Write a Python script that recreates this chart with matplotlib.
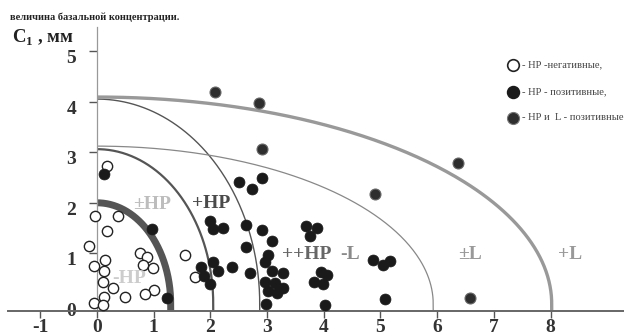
import numpy as np
import matplotlib
matplotlib.use('Agg')
import matplotlib.pyplot as plt
import matplotlib.transforms as mtransforms

plt.rcParams['font.family'] = ['Liberation Serif', 'DejaVu Serif']
plt.rcParams['font.weight'] = 'bold'
plt.rcParams['axes.unicode_minus'] = False
plt.rcParams['mathtext.fontset'] = 'custom'
plt.rcParams['mathtext.bf'] = 'Liberation Serif:bold'
plt.rcParams['mathtext.rm'] = 'Liberation Serif:bold'

# HP-negative (open circles)
neg_x = [0.18, -0.04, 0.37, 0.18, -0.14, 0.14, -0.05, 0.12, 0.11, 0.28, 0.49,
         0.12, -0.05, 0.10, 0.76, 0.88, 0.81, 0.99, 1.00, 0.85, 1.55, 1.73]
neg_y = [2.73, 1.74, 1.74, 1.44, 1.15, 0.87, 0.75, 0.65, 0.43, 0.32, 0.14,
         0.14, 0.02, -0.02, 1.00, 0.93, 0.77, 0.71, 0.28, 0.20, 0.97, 0.53]

# HP-positive (black dots)
pos_x = [0.12, 0.97, 1.23, 2.50, 2.73, 2.91, 1.99, 2.05, 2.22, 2.63, 2.91, 3.09,
         2.63, 3.02, 2.96, 1.83, 2.05, 2.13, 2.38, 1.89, 1.99, 2.70, 3.09, 3.28,
         2.96, 3.14, 3.02, 3.17, 3.28, 2.98, 3.69, 3.88, 3.76, 3.95, 4.06, 3.83,
         3.99, 4.02, 4.87, 5.04, 5.17, 5.08]
pos_y = [2.57, 1.48, 0.12, 2.41, 2.27, 2.49, 1.64, 1.48, 1.50, 1.56, 1.46, 1.25,
         1.13, 0.97, 0.83, 0.73, 0.83, 0.65, 0.73, 0.55, 0.40, 0.61, 0.65, 0.61,
         0.43, 0.41, 0.26, 0.22, 0.32, 0.00, 1.54, 1.50, 1.34, 0.63, 0.57, 0.43,
         0.40, -0.02, 0.87, 0.77, 0.85, 0.10]

# HP and L positive
lpos_x = [2.08, 2.86, 2.91, 4.90, 6.37, 6.58]
lpos_y = [4.19, 3.97, 3.06, 2.17, 2.79, 0.12]

# boundary quarter-ellipses: semi-axis along x and along y
arc_a = [1.30, 2.05, 2.87, 5.93, 8.02]
arc_b = [2.00, 3.06, 4.05, 3.12, 4.09]
arc_color = ['#555555', '#555555', '#555555', '#888888', '#999999']
arc_lw = [5.0, 1.6, 1.0, 0.9, 2.4]

x_ticks = [-1, 0, 1, 2, 3, 4, 5, 6, 7, 8]
y_ticks = [0, 1, 2, 3, 4, 5]
base_y = -0.13  # height of the drawn x axis line

fig = plt.figure(figsize=(6.24, 3.35), dpi=100)
ax = fig.add_axes([0, 0, 1, 1])
ax.set_xlim(-1.711, 9.295)
ax.set_ylim(-0.613, 6.008)

for sp in ['top', 'right']:
    ax.spines[sp].set_visible(False)
ax.spines['left'].set_position(('data', 0))
ax.spines['left'].set_bounds(base_y, 5.47)
ax.spines['left'].set_color('#999999')
ax.spines['left'].set_linewidth(0.9)
ax.spines['bottom'].set_position(('data', base_y))
ax.spines['bottom'].set_bounds(-1.57, 9.3)
ax.spines['bottom'].set_color('#666666')
ax.spines['bottom'].set_linewidth(1.4)

ax.set_xticks(x_ticks)
ax.set_xticklabels([str(t) for t in x_ticks])
ax.set_yticks(y_ticks)
ax.set_yticklabels([str(t) for t in y_ticks])
ax.tick_params(axis='x', direction='out', length=5, width=1, color='#555555',
               labelsize=14, labelcolor='#333333', pad=1)
ax.tick_params(axis='y', direction='out', length=6, width=1, color='#555555',
               labelsize=14, labelcolor='#333333', pad=9)
# y labels sit a little below their ticks in the original
shift = mtransforms.ScaledTranslation(0, -4 / 72, fig.dpi_scale_trans)
for lbl in ax.get_yticklabels():
    lbl.set_transform(lbl.get_transform() + shift)

t = np.linspace(0, np.pi / 2, 200)
for a, b, c, lw in zip(arc_a, arc_b, arc_color, arc_lw):
    xs = np.concatenate([[a], a * np.cos(t)])
    ys = np.concatenate([[base_y], b * np.sin(t)])
    ax.plot(xs, ys, color=c, lw=lw, solid_capstyle='butt', zorder=2)

ax.scatter(neg_x, neg_y, s=55, facecolor='white', edgecolor='#222222',
           linewidth=1.0, zorder=3)
ax.scatter(pos_x, pos_y, s=62, facecolor='#1a1a1a', edgecolor='#1a1a1a',
           linewidth=0.5, zorder=3)
ax.scatter(lpos_x, lpos_y, s=62, facecolor='#2e2e2e', edgecolor='#666666',
           linewidth=0.8, zorder=3)

# region labels
lab = dict(fontsize=14, fontweight='bold', ha='center', va='center', zorder=4)
ax.text(0.97, 1.96, '±HP', color='#bdbdbd', **lab)
ax.text(2.01, 1.98, '+HP', color='#4a4a4a', **lab)
ax.text(0.56, 0.51, '-HP', color='#cccccc', **lab)
ax.text(3.70, 0.97, '++HP', color='#666666', **lab)
ax.text(4.46, 0.97, '-L', color='#8a8a8a', **lab)
ax.text(6.58, 0.97, '±L', color='#999999', **lab)
ax.text(8.34, 0.97, '+L', color='#999999', **lab)

# headings
fig.text(0.016, 0.949, 'величина базальной концентрации.', fontsize=7.5,
         fontweight='bold', color='#222222', va='center', ha='left')
fig.text(0.019, 0.887, r'$\mathbf{C}_{\mathbf{1}}$ , мм', fontsize=13.5,
         fontweight='bold', color='#222222', va='center', ha='left')

# legend
leg_y = [0.806, 0.725, 0.648]
leg_txt = ['- НР -негативные,', '- НР - позитивные,', '- НР и  L - позитивные']
ax.scatter([0.822], [leg_y[0]], s=70, facecolor='white', edgecolor='#222222',
           linewidth=1.2, transform=ax.transAxes, clip_on=False)
ax.scatter([0.822], [leg_y[1]], s=75, facecolor='#1a1a1a', edgecolor='#1a1a1a',
           transform=ax.transAxes, clip_on=False)
ax.scatter([0.822], [leg_y[2]], s=75, facecolor='#2e2e2e', edgecolor='#777777',
           linewidth=0.8, transform=ax.transAxes, clip_on=False)
for yy, s in zip(leg_y, leg_txt):
    ax.text(0.836, yy, s, fontsize=7.6, fontweight='normal', color='#444444',
            va='center', ha='left', transform=ax.transAxes)

fig.savefig('out.png', dpi=100)
